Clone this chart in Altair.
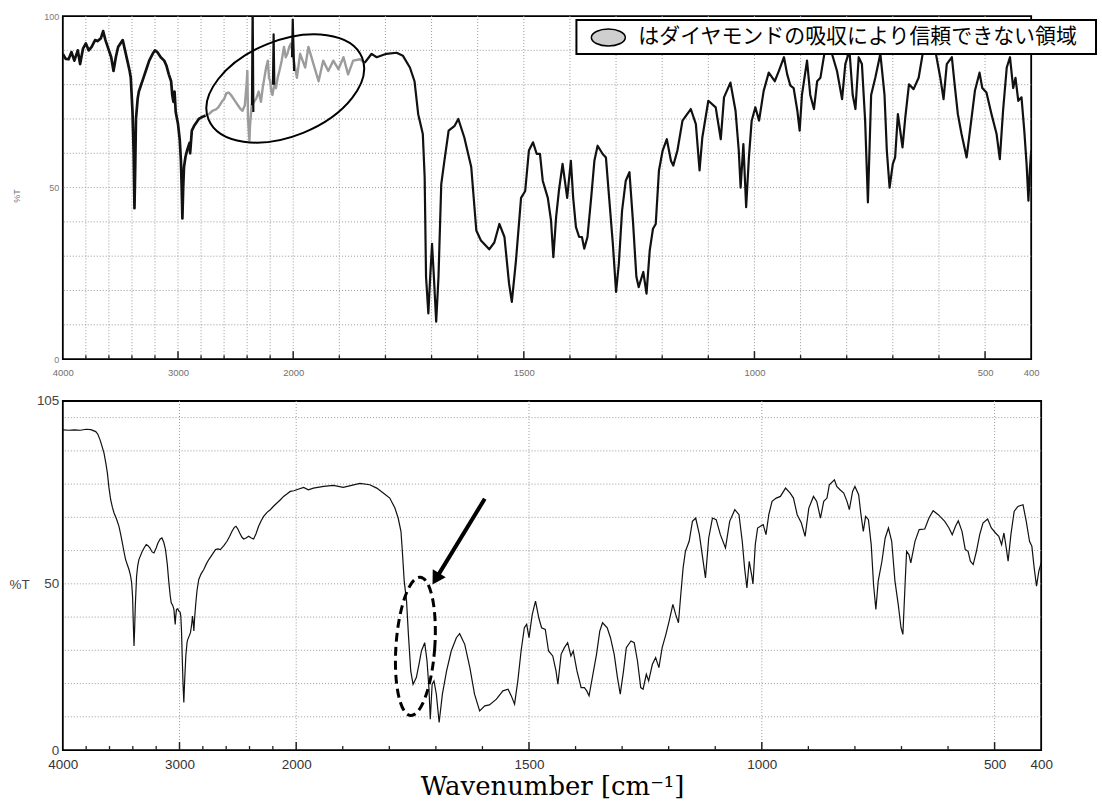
import altair as alt
import pandas as pd

# ---------------- data ----------------
# top spectrum: black part 4000-2760
top_a_wn = [4000, 3975, 3950, 3925, 3900, 3870, 3850, 3825, 3800, 3775, 3750, 3720, 3700, 3670, 3650, 3630,
            3600, 3580, 3560, 3540, 3520, 3500, 3480, 3460, 3440, 3420, 3410, 3395, 3385, 3378, 3372, 3365,
            3350, 3340, 3300, 3270, 3250, 3220, 3200, 3180, 3150, 3120, 3100, 3080, 3060, 3050, 3040, 3030,
            3020, 3000, 2985, 2975, 2968, 2962, 2955, 2948, 2935, 2920, 2910, 2900, 2895, 2880, 2860, 2840,
            2820, 2800, 2760]
top_a_t = [89, 87.5, 87.4, 89.5, 87, 90, 86, 90.5, 92, 90, 91, 93, 92.7, 93.5, 95.6, 93,
           90, 88, 84, 88, 91, 92, 93, 90, 87, 84, 82, 72, 60, 44, 55, 70,
           76, 78, 82, 85, 87, 89, 90, 89.5, 88, 87, 85.5, 83, 81, 77, 75, 78,
           72, 68.5, 64, 58, 50, 41, 50, 56, 59, 61, 62, 63, 60, 66.6, 68, 69,
           70, 70.4, 71]
# top spectrum: grey (unreliable, diamond absorption) part 2760-1845
top_b_wn = [2760, 2730, 2700, 2670, 2650, 2620, 2600, 2580, 2560, 2540, 2520, 2500, 2480, 2460, 2440, 2420,
            2405, 2398, 2392, 2385, 2380, 2375, 2360, 2340, 2320, 2300, 2280, 2265, 2250, 2235, 2220, 2210,
            2200, 2190, 2180, 2165, 2150, 2135, 2120, 2100, 2080, 2065, 2050, 2035, 2020, 2010, 1992, 1985,
            1974, 1967, 1956, 1945, 1935, 1924, 1913, 1902, 1891, 1881, 1870, 1855, 1845]
top_b_t = [71, 71.5, 72.4, 72.8, 73.4, 75, 75.8, 77.5, 77.7, 77, 76, 75, 74, 73, 72.4, 74,
           80, 84, 70, 66, 63.7, 68, 74, 75, 76, 78, 75, 79, 82, 85, 87, 82,
           81, 78, 77, 80, 79, 82, 84, 87, 91, 88, 89, 91, 92, 90, 82, 89,
           85, 91, 86, 81, 87, 84, 87, 84.5, 88, 83, 87, 87.4, 86.4]
# black spikes inside the grey region
spike_wn = [[2358, 2352, 2346], [2176, 2170, 2164], [2010, 2004, 1998]]
spike_t = [[74, 104, 72], [80, 94.7, 80], [88, 99, 84]]
# top spectrum: black part 1845-400
top_c_wn = [1845, 1830, 1819, 1798, 1776, 1762, 1747, 1737, 1729, 1724, 1719, 1715, 1712, 1707, 1703, 1699,
            1695, 1690, 1685, 1679, 1672, 1663, 1650, 1642, 1629, 1614, 1603, 1593, 1575, 1564, 1553, 1542,
            1532, 1526, 1517, 1506, 1497, 1489, 1480, 1472, 1465, 1459, 1448, 1441, 1436, 1430, 1424, 1416,
            1410, 1406, 1398, 1393, 1387, 1380, 1374, 1369, 1362, 1354, 1347, 1340, 1329, 1322, 1315, 1307,
            1300, 1294, 1287, 1279, 1271, 1263, 1256, 1251, 1241, 1234, 1227, 1220, 1214, 1207, 1199, 1190,
            1181, 1176, 1167, 1156, 1138, 1127, 1119, 1113, 1100, 1084, 1073, 1066, 1052, 1041, 1034, 1030,
            1024, 1018, 1012, 1006, 998, 990, 980, 969, 956, 947, 936, 929, 922, 915, 907, 902,
            897, 886, 879, 871, 864, 857, 846, 832, 821, 810, 803, 794, 787, 781, 774, 767,
            760, 754, 747, 738, 727, 718, 713, 707, 700, 695, 689, 684, 679, 673, 665, 655,
            644, 634, 608, 597, 590, 583, 572, 566, 559, 551, 540, 530, 522, 512, 506, 497,
            486, 475, 468, 461, 453, 446, 439, 434, 428, 421, 415, 410, 406, 403, 400]
top_c_t = [86.4, 89, 88, 89, 89.3, 88.4, 85, 81, 71.4, 68.5, 65.6, 53, 24, 13.3, 24, 33.6,
           24, 10.9, 24, 51, 58, 66.6, 68, 70, 64.6, 56, 37.5, 34.6, 32, 34, 39.4, 35.6,
           22, 16.7, 28.8, 47, 49, 60.8, 63.2, 59.8, 59.8, 52, 47, 40.4, 29.7, 41.4, 49, 56.9,
           51, 47, 57.8, 47, 38.5, 35.6, 35.6, 32.2, 35.6, 47, 57.8, 62.2, 59.8, 58.8, 47, 33.6,
           19.6, 27.8, 43.3, 52, 54.5, 39.4, 24, 21, 25.4, 19.1, 31.7, 38, 39.4, 55, 60.8, 64.1,
           57.8, 56.4, 60.8, 69.5, 72.9, 68.5, 55, 64.6, 75.3, 73.4, 64.1, 76.3, 80.6, 72.4, 60.8, 50,
           62.7, 44.3, 58.8, 69.5, 73.4, 69.5, 78.2, 83.5, 81, 84, 88, 83, 79.7, 79, 72.4, 66.6,
           77, 87, 77, 72.9, 81, 82, 91, 89, 84, 75.8, 86, 90, 77, 72.9, 88, 86,
           69.5, 45.7, 77, 82, 89, 77, 60.8, 50, 56.9, 58.8, 71.4, 66.6, 61.7, 70.4, 80.1, 78.7,
           82, 90, 90, 82, 75.8, 86, 88, 80.1, 71.4, 65.6, 58.8, 69.5, 78.2, 83.5, 79, 77.7,
           71.4, 65.6, 58.3, 72.4, 85, 88, 79, 82, 75.3, 76.3, 66.6, 56.9, 46.2, 55, 60.8]

# bottom spectrum
bot_wn = [4000, 3950, 3900, 3850, 3800, 3760, 3718, 3700, 3681, 3665, 3647, 3630, 3618, 3605, 3590, 3575,
          3561, 3540, 3519, 3505, 3490, 3475, 3462, 3445, 3433, 3420, 3410, 3402, 3396, 3390, 3385, 3379,
          3372, 3368, 3358, 3348, 3319, 3300, 3285, 3270, 3254, 3235, 3219, 3200, 3185, 3165, 3151, 3135,
          3120, 3105, 3091, 3080, 3071, 3058, 3048, 3040, 3037, 3033, 3026, 3015, 3006, 2995, 2989, 2983,
          2977, 2970, 2963, 2957, 2946, 2935, 2929, 2915, 2906, 2895, 2889, 2883, 2877, 2870, 2860, 2850,
          2835, 2815, 2792, 2770, 2749, 2720, 2692, 2670, 2650, 2620, 2593, 2570, 2550, 2530, 2516, 2500,
          2484, 2465, 2450, 2430, 2407, 2385, 2365, 2345, 2322, 2300, 2279, 2250, 2222, 2190, 2165, 2135,
          2108, 2080, 2051, 2020, 1999, 1984, 1974, 1963, 1941, 1920, 1899, 1881, 1863, 1842, 1827, 1813,
          1799, 1788, 1781, 1775, 1772, 1768, 1763, 1759, 1754, 1749, 1742, 1736, 1731, 1724, 1719, 1715,
          1712, 1708, 1704, 1699, 1693, 1686, 1677, 1667, 1656, 1649, 1638, 1627, 1617, 1606, 1595, 1585,
          1570, 1556, 1545, 1538, 1531, 1524, 1517, 1510, 1505, 1500, 1493, 1486, 1479, 1473, 1465, 1458,
          1449, 1442, 1438, 1431, 1424, 1417, 1410, 1405, 1397, 1388, 1381, 1376, 1371, 1364, 1355, 1348,
          1342, 1332, 1325, 1317, 1310, 1304, 1297, 1291, 1281, 1274, 1267, 1260, 1255, 1248, 1243, 1235,
          1228, 1221, 1214, 1206, 1199, 1191, 1185, 1179, 1174, 1169, 1164, 1156, 1149, 1142, 1134, 1128,
          1121, 1114, 1106, 1098, 1089, 1078, 1069, 1058, 1049, 1042, 1037, 1032, 1027, 1022, 1019, 1014,
          1009, 1003, 997, 991, 985, 978, 969, 960, 949, 939, 932, 924, 915, 907, 899, 889,
          882, 874, 867, 860, 855, 844, 839, 832, 824, 817, 812, 805, 800, 792, 787, 782,
          777, 771, 765, 760, 755, 750, 742, 735, 728, 721, 714, 707, 701, 697, 692, 689,
          684, 680, 671, 662, 650, 641, 632, 621, 607, 598, 591, 584, 578, 570, 563, 557,
          552, 546, 539, 532, 525, 515, 507, 498, 491, 485, 480, 475, 471, 465, 458, 450,
          439, 432, 425, 420, 415, 410, 405, 400]
bot_t = [96.3, 96.2, 96.3, 96.2, 96.5, 96.4, 95.8, 95, 93.3, 91.5, 89.3, 86, 83.3, 79, 75.3, 73,
         71.3, 69.5, 67.3, 65, 62.3, 59.5, 57.3, 55.5, 54.3, 52.5, 50.3, 46, 38, 31.3, 36, 43.3,
         49, 52.3, 55.5, 57.3, 59.8, 61, 61.8, 61.5, 60.8, 59.6, 59.3, 60.8, 62.3, 63.5, 63.8, 62.5,
         60.3, 56, 50.3, 46.5, 44.3, 43.5, 42.3, 39, 37.8, 40, 42.3, 42.5, 41.8, 41.5, 40.3, 36,
         28.3, 20, 14.3, 20, 28.3, 32.5, 33.3, 34.5, 35.3, 38, 40.3, 38.5, 35.8, 40, 44.3, 48,
         51.3, 53, 54.3, 56, 57.3, 58.8, 60.3, 60.5, 60.3, 61.5, 62.8, 64.3, 65.8, 67, 67.3, 66.5,
         65.3, 64, 63.5, 63.8, 64.3, 63.8, 63.5, 65, 67.3, 69, 70.3, 71.5, 72.3, 73.5, 74.3, 75.3,
         76.3, 77, 77.8, 78, 78.3, 79, 78.3, 78.8, 79.3, 79.6, 79, 79.6, 80.2, 79.8, 78.8, 77.3,
         75.8, 72.8, 69.8, 65.8, 59.8, 50.8, 44.8, 34.8, 23.8, 19.8, 21.8, 26, 29.8, 32.3, 26.8, 18.8,
         9.3, 19.8, 20.8, 16.8, 8.3, 16.8, 23.8, 29.8, 33.8, 35, 31.8, 24.8, 16.8, 11.8, 13.3, 13.6,
         15.3, 17.8, 18.3, 16.3, 13.8, 20.8, 29.8, 36.8, 37.8, 33.8, 40.8, 44.8, 39.8, 36.8, 36.3, 29.8,
         28.3, 23.8, 19.8, 28.8, 30.8, 32.3, 28.3, 29.8, 23.8, 18.8, 18.8, 17.8, 16.3, 21.8, 28.8, 35.8,
         38.3, 36.8, 33.8, 28.8, 21.8, 16.8, 23.8, 30.8, 32.8, 32.3, 26.8, 18.8, 18.3, 22.8, 20.8, 25.8,
         27.8, 24.8, 30.8, 34.8, 38.8, 43.8, 40.8, 38.3, 46.8, 54.8, 59.8, 62.8, 68.8, 69.8, 64.8, 58.8,
         51.8, 63.8, 69.8, 69.3, 64.8, 60.8, 68.8, 72.3, 70.8, 62.8, 54.8, 48.8, 56.8, 52.8, 50, 61.8,
         66.8, 67.3, 67.8, 64.8, 70.8, 74.8, 75.8, 76.3, 78.8, 77.3, 75.8, 70.8, 68.3, 64.3, 72.8, 76.3,
         74.8, 69.8, 74.8, 75.8, 79.8, 81.3, 79.3, 78.3, 77.3, 74.8, 72.3, 77.8, 79.3, 76.8, 70.8, 65.8,
         70.3, 69.3, 61.8, 49.8, 42.3, 50.8, 56.8, 63.8, 66.8, 62.8, 50.8, 43.8, 36.8, 34.8, 50.8, 59.8,
         58.8, 56.3, 62.8, 66.3, 66.5, 69.8, 72, 70.8, 68.8, 66.8, 64.8, 67.3, 69, 65.8, 60.3, 59.8,
         56.8, 55.8, 59.8, 64.8, 68.3, 69.5, 66.8, 65.3, 64.3, 61.8, 65.3, 60.8, 56.8, 64.8, 71.8, 73.3,
         73.8, 68.8, 62.8, 61.3, 54.8, 49.3, 53.8, 56.3]

# axis text / tick positions
x_labels = [4000, 3000, 2000, 1500, 1000, 500, 400]
x_major = [3000, 2000, 1500, 1000, 500]
x_minor = [3800, 3600, 3400, 3200, 2800, 2600, 2400, 2200,
           1900, 1800, 1700, 1600, 1400, 1300, 1200, 1100, 900, 800, 700, 600]
top_vgrid = [3800, 3600, 3400, 3200, 3000, 2800, 2600, 2400, 2200, 2000,
             1900, 1800, 1700, 1600, 1500, 1400, 1300, 1200, 1100, 1000, 900, 800, 700, 600, 500]
bot_vgrid = [3000, 2000, 1500, 1000, 500]
top_hgrid = [10, 20, 30, 40, 50, 60, 70, 80, 90]
bot_hgrid = [10, 20, 30, 40, 50, 60, 70, 80, 90, 100]
top_ylabels = [0, 50, 100]
bot_ylabels = [0, 50, 105]
legend_text = "はダイヤモンドの吸収により信頼できない領域"
x_title = "Wavenumber [cm⁻¹]"

# annotations (data coordinates)
top_ellipse = {"wn": 2069, "t": 78.9}
bot_ellipse = {"wn": 1744, "t": 31.2}
arrow = {"wn": 1595, "t": 75.6, "wn2": 1700, "t2": 51.5}

# ---------------- layout ----------------
TW, TH = 971, 344
BW, BH = 981, 350
top_x = alt.Scale(domain=[4000, 2000, 400], range=[0, 231, TW], nice=False, zero=False)
bot_x = alt.Scale(domain=[4000, 2000, 400], range=[0, 234, BW], nice=False, zero=False)
top_y = alt.Scale(domain=[0, 100], nice=False, zero=False)
bot_y = alt.Scale(domain=[0, 105], nice=False, zero=False)


def ellipse_path(rx, ry):
    k = 0.5523
    return (f"M {rx} 0 C {rx} {k*ry:.4f} {k*rx:.4f} {ry} 0 {ry} "
            f"C {-k*rx:.4f} {ry} {-rx} {k*ry:.4f} {-rx} 0 "
            f"C {-rx} {-k*ry:.4f} {-k*rx:.4f} {-ry} 0 {-ry} "
            f"C {k*rx:.4f} {-ry} {rx} {-k*ry:.4f} {rx} 0 Z")


GRID = dict(color="#9a9a9a", strokeDash=[1, 2], strokeWidth=1)


def grids(xs, ys, xscale, yscale):
    v = alt.Chart(pd.DataFrame({"wn": xs})).mark_rule(**GRID).encode(
        x=alt.X("wn:Q", scale=xscale))
    h = alt.Chart(pd.DataFrame({"t": ys})).mark_rule(**GRID).encode(
        y=alt.Y("t:Q", scale=yscale))
    return v, h


def ticks(xscale, H, minor_len, major_len):
    mi = alt.Chart(pd.DataFrame({"wn": x_minor})).mark_rule(color="#222", strokeWidth=1.3).encode(
        x=alt.X("wn:Q", scale=xscale), y=alt.value(H), y2=alt.value(H - minor_len))
    ma = alt.Chart(pd.DataFrame({"wn": x_major})).mark_rule(color="#222", strokeWidth=1.5).encode(
        x=alt.X("wn:Q", scale=xscale), y=alt.value(H), y2=alt.value(H - major_len))
    return mi, ma


# ---------------- top panel ----------------
rows = []
segs = [("a", "#111111", 2.7, top_a_wn, top_a_t), ("b", "#9c9c9c", 2.4, top_b_wn, top_b_t),
        ("c", "#111111", 2.2, top_c_wn, top_c_t)]
for j, (w, t) in enumerate(zip(spike_wn, spike_t)):
    segs.append((f"s{j}", "#111111", 2.2, w, t))
for name, col, sw, ws, ts in segs:
    for i, (w, t) in enumerate(zip(ws, ts)):
        rows.append({"wn": w, "t": t, "seg": name, "col": col, "sw": sw, "i": i})
top_df = pd.DataFrame(rows)

top_xaxis = alt.Axis(values=x_labels, format="d", title=None, ticks=False, domain=False, grid=False,
                     labelFlush=False, labelOverlap=False, labelFontSize=9.5, labelColor="#6f6f6f",
                     labelFont="Liberation Sans", labelPadding=8)
top_yaxis = alt.Axis(values=top_ylabels, format="d", title="%T", ticks=False, domain=False, grid=False,
                     labelFontSize=9, labelColor="#7a7a7a", labelFont="Liberation Sans", labelPadding=4,
                     labelFlush=False, labelOverlap=False,
                     titleAngle=270, titleX=-46, titleY=180, titleAlign="center", titleBaseline="middle",
                     titleFontSize=9, titleColor="#7a7a7a", titleFontWeight="normal", titleFont="Liberation Sans")

tv, th = grids(top_vgrid, top_hgrid, top_x, top_y)
tmi, tma = ticks(top_x, TH, 4, 8)

top_line = alt.Chart(top_df).mark_line(clip=True, strokeJoin="round").encode(
    x=alt.X("wn:Q", scale=top_x, axis=top_xaxis),
    y=alt.Y("t:Q", scale=top_y, axis=top_yaxis),
    color=alt.Color("col:N", scale=None),
    strokeWidth=alt.StrokeWidth("sw:Q", scale=None),
    detail="seg:N",
    order="i:Q",
)

top_ell = alt.Chart(pd.DataFrame([top_ellipse])).mark_point(
    shape=ellipse_path(1, 0.578), size=166 ** 2, angle=338, filled=False, stroke="black",
    strokeWidth=2, opacity=1).encode(x=alt.X("wn:Q", scale=top_x), y=alt.Y("t:Q", scale=top_y))

one = pd.DataFrame({"k": [0]})
legend_box = alt.Chart(one).mark_rect(fill="white", stroke="black", strokeWidth=2).encode(
    x=alt.value(515), x2=alt.value(1036), y=alt.value(4), y2=alt.value(38))
legend_icon = alt.Chart(one).mark_point(
    shape=ellipse_path(1, 0.5), size=34 ** 2, filled=True, fill="#cfcfcf", stroke="black",
    strokeWidth=1.5, opacity=1).encode(x=alt.value(547), y=alt.value(21.5))
legend_txt = alt.Chart(pd.DataFrame({"s": [legend_text]})).mark_text(
    font="Noto Sans CJK JP", fontSize=21, align="left", baseline="middle", color="black").encode(
    x=alt.value(577), y=alt.value(21.5), text="s:N")

top = alt.layer(th, tv, tmi, tma, top_line, top_ell, legend_box, legend_icon, legend_txt).properties(
    width=TW, height=TH)

# ---------------- bottom panel ----------------
bot_df = pd.DataFrame({"wn": bot_wn, "t": bot_t, "i": list(range(len(bot_wn)))})

bot_xaxis = alt.Axis(values=x_labels, format="d", title=x_title, ticks=False, domain=False, grid=False,
                     labelFlush=False, labelOverlap=False, labelFontSize=13.5, labelColor="#333333",
                     labelFont="Liberation Sans", labelPadding=7,
                     titleFont="DejaVu Serif", titleFontSize=26, titleFontWeight="normal",
                     titleColor="black", titleY=45, titleBaseline="alphabetic")
bot_yaxis = alt.Axis(values=bot_ylabels, format="d", title="%T", ticks=False, domain=False, grid=False,
                     labelFontSize=13.5, labelColor="#444444", labelFont="Liberation Sans", labelPadding=4,
                     labelFlush=False, labelOverlap=False,
                     titleAngle=0, titleX=-54, titleY=184, titleAlign="left", titleBaseline="middle",
                     titleFontSize=13.5, titleColor="#444444", titleFontWeight="normal",
                     titleFont="Liberation Sans")

bv, bh = grids(bot_vgrid, bot_hgrid, bot_x, bot_y)
bmi, bma = ticks(bot_x, BH, 4, 8)

bot_line = alt.Chart(bot_df).mark_line(strokeWidth=1.2, color="#111111", clip=True).encode(
    x=alt.X("wn:Q", scale=bot_x, axis=bot_xaxis),
    y=alt.Y("t:Q", scale=bot_y, axis=bot_yaxis),
    order="i:Q",
)

bot_ell = alt.Chart(pd.DataFrame([bot_ellipse])).mark_point(
    shape=ellipse_path(0.28, 1), size=139 ** 2, angle=4, filled=False, stroke="black",
    strokeWidth=3, strokeDash=[9, 5], opacity=1).encode(
    x=alt.X("wn:Q", scale=bot_x), y=alt.Y("t:Q", scale=bot_y))

arrow_df = pd.DataFrame([arrow])
arrow_shaft = alt.Chart(arrow_df).mark_rule(strokeWidth=4, color="black").encode(
    x=alt.X("wn:Q", scale=bot_x), y=alt.Y("t:Q", scale=bot_y), x2="wn2:Q", y2="t2:Q")
arrow_head = alt.Chart(arrow_df).mark_point(
    shape="triangle-up", size=230, angle=211, filled=True, color="black", opacity=1).encode(
    x=alt.X("wn2:Q", scale=bot_x), y=alt.Y("t2:Q", scale=bot_y))

bottom = alt.layer(bh, bv, bmi, bma, bot_line, bot_ell, arrow_shaft, arrow_head).properties(
    width=BW, height=BH)

chart = alt.vconcat(top, bottom, spacing=42, bounds="flush").properties(
    padding={"left": 8, "top": 10, "right": 4, "bottom": 4},
    background="white",
).configure_view(stroke="black", strokeWidth=1.8)

chart.save("out.html", embed_options={"renderer": "svg", "actions": False})
